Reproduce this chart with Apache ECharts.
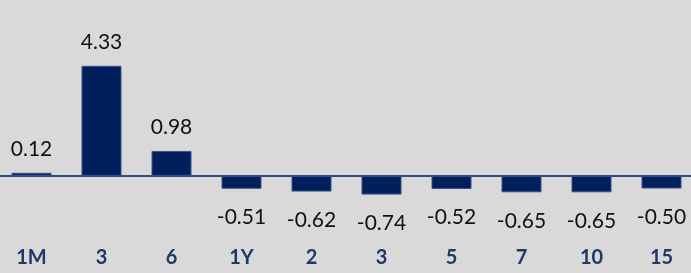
<!DOCTYPE html>
<html>
<head>
<meta charset="utf-8">
<script src="https://cdn.jsdelivr.net/npm/echarts@6/dist/echarts.min.js"></script>
<style>
  html, body { margin: 0; padding: 0; background: #d9d9d9; }
  #grafico { width: 691px; height: 273px; }
</style>
</head>
<body>
<div id="grafico"></div>
<script>
// prazos e variações
var prazos = ['1M', '3', '6', '1Y', '2', '3', '5', '7', '10', '15'];
var valores = [0.12, 4.33, 0.98, -0.51, -0.62, -0.74, -0.52, -0.65, -0.65, -0.50];

var chart = echarts.init(document.getElementById('grafico'), null, { renderer: 'canvas' });

var option = {
    backgroundColor: '#d9d9d9',
    animation: false,
    grid: {
        left: -3.5,
        right: -5.5,
        top: -2,
        height: 254,
        outerBoundsMode: 'none',
        containLabel: false
    },
    xAxis: [{
        // linha do zero
        type: 'category',
        data: prazos,
        axisTick: { show: false },
        axisLabel: { show: false },
        axisLine: {
            onZero: true,
            lineStyle: { color: '#2f4b80', width: 2 }
        }
    }, {
        // rótulos embaixo
        type: 'category',
        data: prazos,
        position: 'bottom',
        axisTick: { show: false },
        axisLine: { show: false, onZero: false },
        axisLabel: {
            margin: -4,
            fontFamily: 'Lato',
            fontWeight: 'bold',
            fontSize: 20,
            color: '#1f3864'
        }
    }],
    yAxis: {
        type: 'value',
        min: -3,
        max: 7,
        show: false,
        splitLine: { show: false }
    },
    series: [{
        type: 'bar',
        barWidth: 40,
        data: valores.map(function (v) {
            return {
                value: v,
                label: v >= 0 ? { position: 'top', distance: 13 } : { position: 'bottom', distance: 18 }
            };
        }),
        itemStyle: {
            color: '#001f5c',
            borderColor: '#3a5287',
            borderWidth: 1
        },
        label: {
            show: true,
            fontFamily: 'Lato',
            fontSize: 21,
            color: '#111',
            formatter: function (p) { return p.value.toFixed(2); }
        }
    }]
};

chart.setOption(option);
</script>
</body>
</html>
